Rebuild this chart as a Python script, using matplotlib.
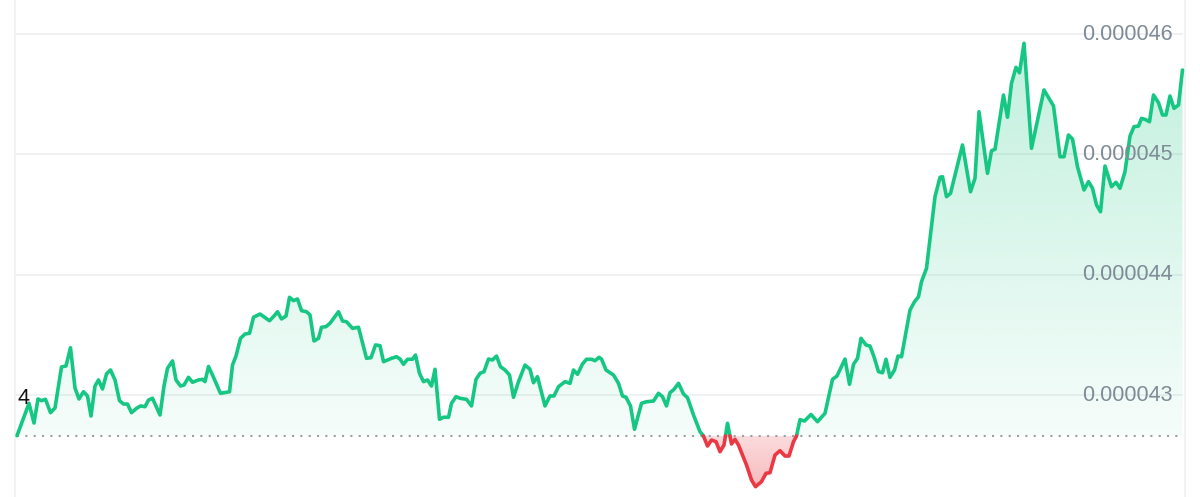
import numpy as np
import matplotlib
matplotlib.use("Agg")
import matplotlib.pyplot as plt
from matplotlib.patches import Polygon

# time steps (arbitrary units) and prices
t = [0, 12, 17, 21, 24.5, 28.5, 33.5, 38, 44.5, 49, 53.5, 58, 62, 66.5, 70.5, 74, 78, 81.5, 85.5,
     89.5, 93.5, 98, 102.5, 106.5, 110.5, 114.5, 119.5, 123.5, 128, 131.5, 135.5, 143, 147, 150.5,
     155.5, 159, 163.5, 167, 171.5, 175.5, 181.5, 185.5, 188, 191.5, 195.5, 203.5, 212.5, 215.5,
     219, 223.5, 228, 232.5, 236.5, 243, 252.5, 257, 260.5, 264.5, 269, 272.5, 276.5, 280.5, 284.5,
     289.5, 293, 297, 301.5, 304.5, 309, 313, 321.5, 325.5, 329.5, 335.5, 341.5, 349.5, 354, 358.5,
     363, 366.5, 374.5, 379.5, 383, 386.5, 390.5, 395.5, 398.5, 402.5, 406.5, 410.5, 414.5, 418,
     422.5, 426.5, 431.5, 434.5, 439, 443, 449.5, 454.5, 459, 463, 467, 471.5, 475.5, 479.5, 483.5,
     488, 492.5, 496.5, 501.5, 508, 513, 516.5, 520.5, 528, 533, 537, 541.5, 548, 553, 556.5, 560.5,
     565.5, 569.5, 574.5, 578, 582, 584.5, 589, 596.5, 601.5, 605.5, 609, 613.5, 617.5, 624.5,
     629.5, 636.5, 641.5, 645.5, 649.5, 653, 657, 661.5, 666.5, 670.5, 676.5, 683, 686.5, 690.5,
     694.5, 699, 703, 707, 710.5, 714.5, 718, 721.5, 729.5, 734.5, 738.5, 744.5, 749, 753, 758, 763,
     768, 772, 776.5, 779.5, 783, 787.5, 794, 800.5, 808, 815.5, 820, 828, 832.5, 836.5, 840.5, 844,
     849, 853, 857, 861.5, 865.5, 869, 873, 877.5, 881, 884.5, 893, 897.5, 901.5, 904.5, 909.5, 918,
     923, 925.5, 929.5, 933.5, 945.5, 953.5, 958, 962, 970.5, 974.5, 978, 986.5, 990.5, 994.5, 999,
     1002.5, 1007, 1014.5, 1027, 1036.5, 1043, 1047, 1051.5, 1055.5, 1060.5, 1067, 1071.5, 1075.5,
     1079.5, 1083.5, 1088, 1094.5, 1099, 1103, 1108, 1113, 1117, 1121.5, 1124.5, 1128, 1132.5,
     1136.5, 1141.5, 1145.5, 1149, 1153, 1157, 1161.5, 1165.5]
price = [42.662, 42.931, 42.767, 42.967, 42.953, 42.964, 42.853, 42.892, 43.233, 43.241, 43.393,
         43.058, 42.967, 43.027, 42.992, 42.825, 43.075, 43.125, 43.050, 43.175, 43.208, 43.125,
         42.953, 42.925, 42.925, 42.853, 42.889, 42.909, 42.903, 42.958, 42.973, 42.834, 43.075,
         43.222, 43.283, 43.125, 43.075, 43.083, 43.147, 43.106, 43.125, 43.130, 43.111, 43.237,
         43.166, 43.014, 43.027, 43.249, 43.324, 43.471, 43.507, 43.513, 43.646, 43.673, 43.617,
         43.656, 43.692, 43.632, 43.656, 43.812, 43.784, 43.798, 43.701, 43.692, 43.665, 43.449,
         43.471, 43.563, 43.568, 43.596, 43.692, 43.615, 43.609, 43.554, 43.563, 43.305, 43.310,
         43.416, 43.410, 43.277, 43.305, 43.318, 43.299, 43.255, 43.297, 43.297, 43.332, 43.180,
         43.111, 43.125, 43.075, 43.214, 42.798, 42.815, 42.815, 42.931, 42.986, 42.973, 42.964,
         42.909, 43.130, 43.180, 43.194, 43.299, 43.291, 43.324, 43.235, 43.208, 43.166, 42.981,
         43.111, 43.249, 43.214, 43.102, 43.152, 42.909, 42.992, 42.992, 43.069, 43.111, 43.097,
         43.208, 43.172, 43.258, 43.297, 43.297, 43.285, 43.313, 43.299, 43.208, 43.166, 43.097,
         42.992, 42.981, 42.909, 42.715, 42.931, 42.944, 42.950, 43.014, 42.986, 42.909, 43.019,
         43.047, 43.097, 43.008, 42.978, 42.834, 42.695, 42.659, 42.576, 42.626, 42.612, 42.529,
         42.584, 42.765, 42.593, 42.632, 42.584, 42.418, 42.294, 42.238, 42.280, 42.349, 42.354,
         42.501, 42.537, 42.493, 42.493, 42.612, 42.659, 42.795, 42.784, 42.838, 42.778, 42.848,
         43.130, 43.158, 43.299, 43.089, 43.255, 43.305, 43.471, 43.416, 43.407, 43.318, 43.194,
         43.185, 43.297, 43.147, 43.208, 43.324, 43.318, 43.706, 43.775, 43.817, 43.942, 44.053,
         44.648, 44.809, 44.814, 44.648, 44.676, 45.078, 44.689, 44.801, 45.354, 44.842, 45.030,
         45.042, 45.493, 45.308, 45.590, 45.723, 45.678, 45.923, 45.050, 45.535, 45.402, 44.980,
         44.980, 45.161, 45.127, 44.897, 44.704, 44.773, 44.718, 44.579, 44.523, 44.903, 44.731,
         44.768, 44.718, 44.856, 45.152, 45.230, 45.235, 45.299, 45.291, 45.271, 45.493, 45.429,
         45.327, 45.327, 45.485, 45.382, 45.410, 45.701]
baseline = 42.660
y_ticks = [43, 44, 45, 46]
tick_labels = ["0.000043", "0.000044", "0.000045", "0.000046"]
scale = 1e-6

GREEN = "#16c784"
RED = "#ea3943"

t = np.array(t, dtype=float)
p = np.array(price) * scale
B = baseline * scale

# insert baseline crossings so the two colours meet exactly
xs, ys = [t[0]], [p[0]]
for i in range(1, len(t)):
    a, b = p[i - 1] - B, p[i] - B
    if a * b < 0:
        f = a / (a - b)
        xs.append(t[i - 1] + f * (t[i] - t[i - 1]))
        ys.append(B)
    xs.append(t[i]); ys.append(p[i])
xs = np.array(xs); ys = np.array(ys)

fig = plt.figure(figsize=(12, 4.97), dpi=100)
ax = fig.add_axes([0, 0, 1, 1])
ax.set_xlim(-17, 1183)
ax.set_ylim((43 - 102 / 120.33) * scale, (43 + 395 / 120.33) * scale)
ax.axis("off")

# grid
for yv in y_ticks:
    ax.hlines(yv * scale, -2, 1166, color="#eff0f2", lw=1.3, zorder=0)
ax.axvline(-2, color="#f0f1f3", lw=1.3, zorder=0)
ax.axvline(1168, color="#f0f1f3", lw=1.3, zorder=0)

# gradient fills
def grad_fill(yvals, y0, y1, rgb, a0, a1):
    verts = np.column_stack([np.r_[xs, xs[::-1]], np.r_[yvals, np.full_like(yvals, B)]])
    poly = Polygon(verts, closed=True, facecolor="none", edgecolor="none")
    ax.add_patch(poly)
    n = 256
    arr = np.zeros((n, 1, 4))
    c = matplotlib.colors.to_rgb(rgb)
    arr[:, 0, :3] = c
    arr[:, 0, 3] = np.linspace(a0, a1, n)
    im = ax.imshow(arr, extent=[xs.min(), xs.max(), y0, y1], origin="lower",
                   aspect="auto", zorder=1, interpolation="bilinear")
    im.set_clip_path(poly)

grad_fill(np.maximum(ys, B), B, 46.0 * scale, GREEN, 0.04, 0.27)
grad_fill(np.minimum(ys, B), 42.2 * scale, B, RED, 0.36, 0.18)

# baseline
ax.plot([xs.min(), 1163], [B, B], color="#9aa0a6", lw=1.5, linestyle=(0, (1, 3)), zorder=2)

# price line
g = np.where(ys >= B, ys, np.nan)
r = np.where(ys <= B, ys, np.nan)
ax.plot(xs, g, color=GREEN, lw=2.6, solid_joinstyle="round", solid_capstyle="round", zorder=3)
ax.plot(xs, r, color=RED, lw=2.6, solid_joinstyle="round", solid_capstyle="round", zorder=3)

# labels
for yv, lab in zip(y_ticks, tick_labels):
    ax.text(1156, yv * scale, lab, ha="right", va="center", color="#7f8b96",
            fontsize=15.5, family="Liberation Sans", zorder=4)
ax.text(1, 42.967 * scale, "4", ha="left", va="center", color="#111111",
        fontsize=15.5, family="Liberation Sans", zorder=4)

fig.savefig("out.png", dpi=100, facecolor="white")
